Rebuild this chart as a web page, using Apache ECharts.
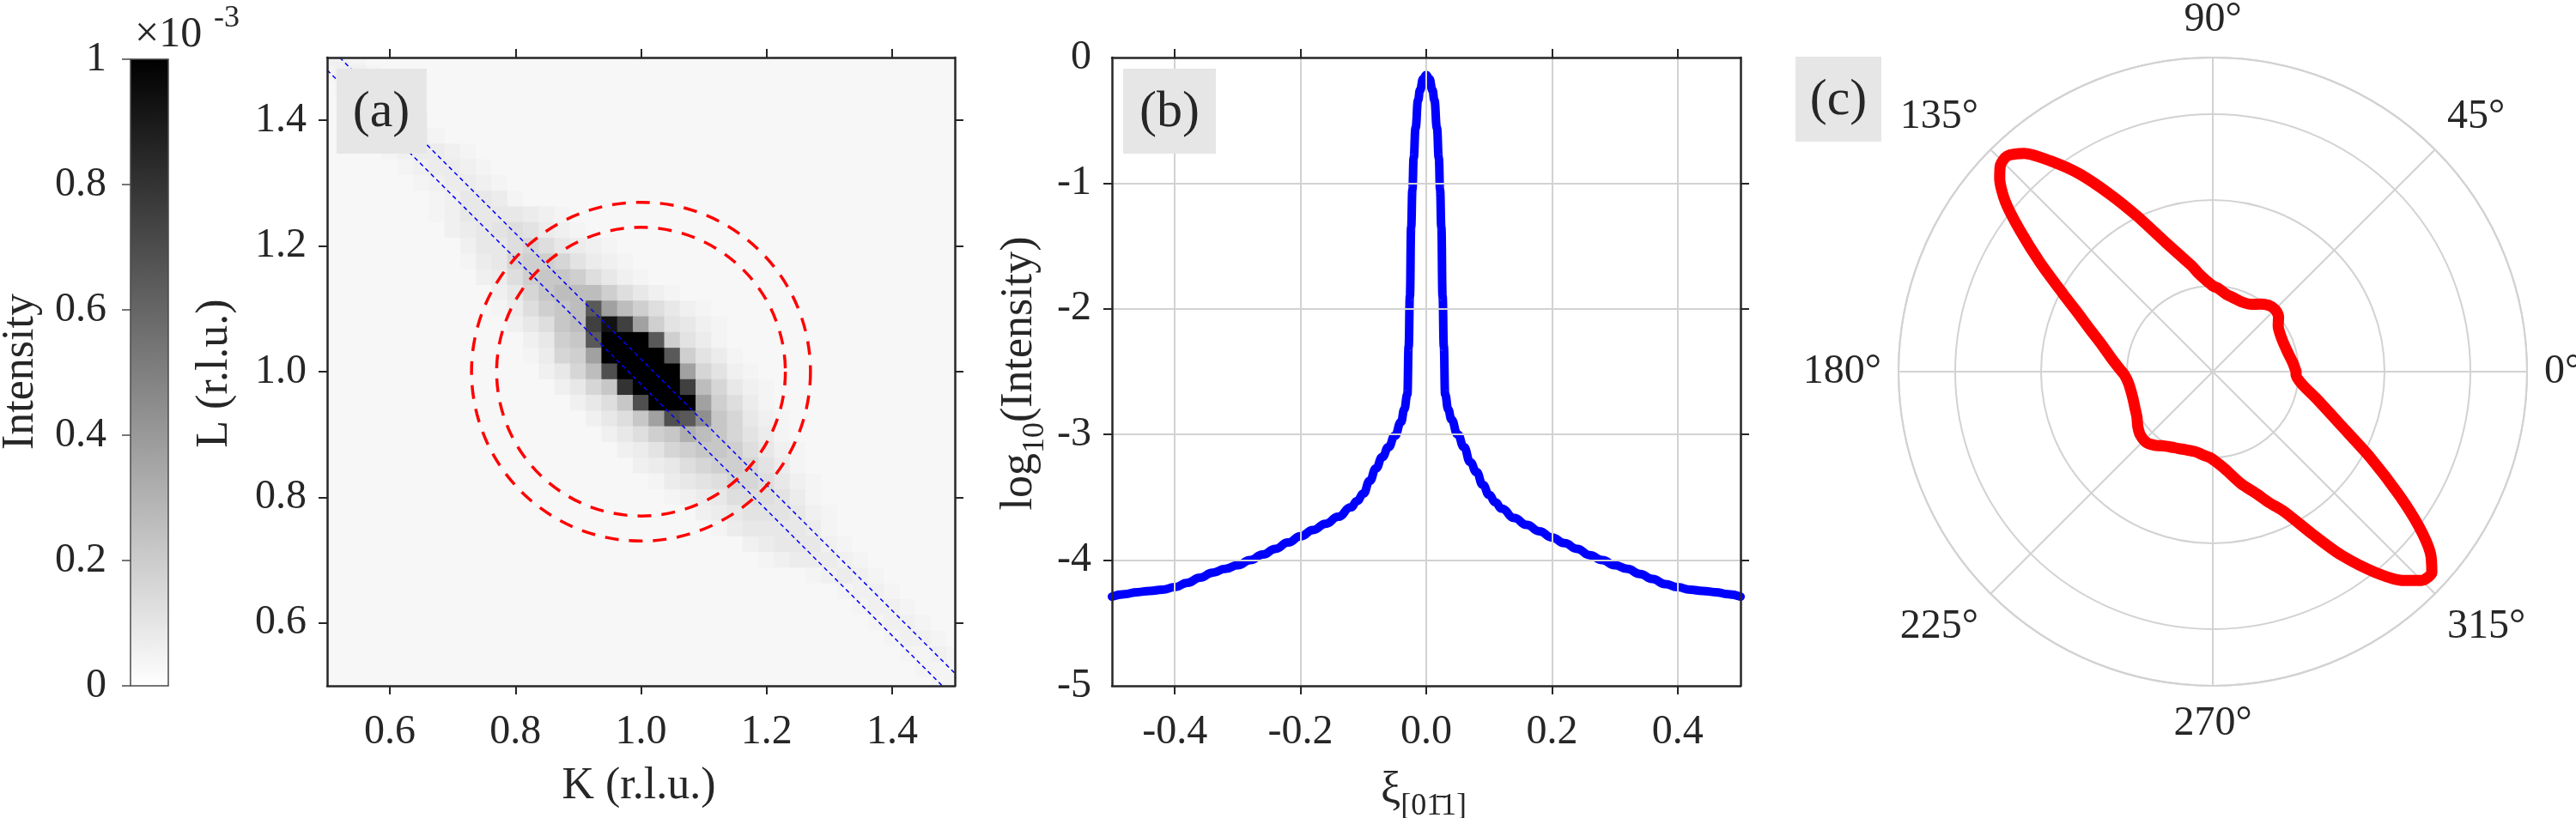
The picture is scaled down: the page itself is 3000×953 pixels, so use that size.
<!DOCTYPE html>
<html><head><meta charset="utf-8">
<script src="https://cdn.jsdelivr.net/npm/echarts@6/dist/echarts.min.js"></script>
<style>html,body{margin:0;padding:0;background:#fff}#c{width:3000px;height:953px}</style>
</head><body><div id="c"></div><script>
// ---------------- data: panel (a) ----------------
const kCenters = [0.5,0.525,0.55,0.575,0.6,0.625,0.65,0.675,0.7,0.725,0.75,0.775,0.8,0.825,0.85,0.875,0.9,0.925,0.95,0.975,1.0,1.025,1.05,1.075,1.1,1.125,1.15,1.175,1.2,1.225,1.25,1.275,1.3,1.325,1.35,1.375,1.4,1.425,1.45,1.475,1.5];
const lCenters = [1.5,1.475,1.45,1.425,1.4,1.375,1.35,1.325,1.3,1.275,1.25,1.225,1.2,1.175,1.15,1.125,1.1,1.075,1.05,1.025,1.0,0.975,0.95,0.925,0.9,0.875,0.85,0.825,0.8,0.775,0.75,0.725,0.7,0.675,0.65,0.625,0.6,0.575,0.55,0.525,0.5];
const cellSize = 0.025;
// gray levels (intensity in units of 1e-3)
const levelCodes = '0123456789abcdefghijk';
const levelValues = [0.03,0.045,0.06,0.075,0.09,0.11,0.13,0.16,0.19,0.22,0.26,0.31,0.37,0.44,0.55,0.65,0.69,0.75,0.8,0.93,1.0];
// each row (top L=1.5 to bottom L=0.5): [first column that differs from background, codes]
const heatRows = [
 [0,'221'],[0,'1221'],[1,'1221'],[2,'1221'],[3,'1221'],[4,'1221'],
 [4,'123321'],[5,'123321'],[6,'123321'],[7,'124431'],[7,'124444321'],
 [8,'234565321'],[9,'2446764321'],[9,'13478875321'],[10,'23689986421'],
 [11,'2479aaa86421'],[11,'13689afca86421'],[12,'2469ahjhc85421'],
 [13,'2489fkkkf8531'],[13,'1378ckkkkf8531'],[14,'247agkkkkc7521'],
 [15,'2479ikkkha7421'],[16,'2469gkkkc8631'],[17,'2469cgfd97421'],
 [18,'24689ba97531'],[19,'235789986421'],[20,'23467887531'],
 [21,'13456776421'],[22,'1234666531'],[24,'234555421'],[25,'13444431'],
 [27,'2344421'],[28,'1233321'],[31,'12321'],[33,'1221'],[34,'1221'],
 [35,'1221'],[36,'1221'],[37,'1121'],[38,'111'],[39,'11']
];
const ringCenter = [1.0, 1.0];
const ringRadii = [0.23, 0.27];
const cutLineA = [[0.52, 1.5], [1.5, 0.52]];
const cutLineB = [[0.5, 1.48], [1.48, 0.5]];
const kTicks = [0.6, 0.8, 1.0, 1.2, 1.4];
const lTicks = [0.6, 0.8, 1.0, 1.2, 1.4];
const cbRange = [0, 1];
const cbTicks = [0, 0.2, 0.4, 0.6, 0.8, 1];

// ---------------- data: panel (b) ----------------
const xiValues = [-0.5,-0.48,-0.46,-0.44,-0.42,-0.4,-0.38,-0.36,-0.34,-0.32,-0.3,-0.28,-0.26,-0.24,-0.22,-0.2,-0.18,-0.16,-0.14,-0.12,-0.11,-0.1,-0.09,-0.08,-0.07,-0.06,-0.05,-0.04,-0.035,-0.03,-0.028,-0.026,-0.024,-0.022,-0.02,-0.017,-0.013,-0.01,-0.005,0,
 0.005,0.01,0.013,0.017,0.02,0.022,0.024,0.026,0.028,0.03,0.035,0.04,0.05,0.06,0.07,0.08,0.09,0.1,0.11,0.12,0.14,0.16,0.18,0.2,0.22,0.24,0.26,0.28,0.3,0.32,0.34,0.36,0.38,0.4,0.42,0.44,0.46,0.48,0.5];
const logIntensity = [-4.29,-4.27,-4.255,-4.245,-4.235,-4.215,-4.18,-4.14,-4.10,-4.07,-4.04,-4.00,-3.955,-3.91,-3.86,-3.81,-3.76,-3.71,-3.655,-3.58,-3.53,-3.47,-3.37,-3.27,-3.18,-3.10,-3.01,-2.90,-2.80,-2.68,-2.3,-1.9,-1.35,-1.05,-0.8,-0.56,-0.34,-0.26,-0.17,-0.14,
 -0.17,-0.26,-0.34,-0.56,-0.8,-1.05,-1.35,-1.9,-2.3,-2.68,-2.80,-2.88,-3.0,-3.10,-3.22,-3.30,-3.40,-3.48,-3.54,-3.59,-3.665,-3.72,-3.77,-3.82,-3.865,-3.91,-3.96,-4.00,-4.04,-4.07,-4.11,-4.15,-4.19,-4.215,-4.235,-4.245,-4.255,-4.27,-4.29];
const xiTicks = [-0.4, -0.2, 0, 0.2, 0.4];
const logTicks = [-5, -4, -3, -2, -1, 0];
const logInnerTicks = [-4, -3, -2, -1];

// ---------------- data: panel (c) ----------------
const polarAngles = [0,6,15,25,35,40,45,50,55,60,67,75,80,86,90,98,101,105,110,116,120,124,127.6,130.8,133.6,135.8,137.8,140.7,143.8,147.7,152.6,156,160.8,166,172,178,182,188,198,205,211,216,221,227,232,235,240,246,252,258,264,268,272,277,284,290,293,297,301.6,305,309,312.5,315,317.5,320.3,323.1,326.5,331.4,337.1,345.6,352,358,360];
const polarRadii = [0.97,0.94,0.90,0.89,0.93,1.0,1.025,1.01,0.96,0.905,0.88,0.895,0.915,0.97,1.0,1.15,1.25,1.38,1.60,2.02,2.38,2.78,3.10,3.36,3.47,3.45,3.35,3.12,2.78,2.38,1.96,1.74,1.52,1.34,1.20,1.09,1.03,0.99,0.98,1.0,1.03,1.08,1.12,1.13,1.09,1.054,1.01,0.98,0.96,0.955,0.98,1.0,1.05,1.14,1.34,1.52,1.65,1.83,2.23,2.61,3.01,3.30,3.44,3.46,3.29,3.0,2.60,2.09,1.63,1.24,1.05,0.97,0.97];
const radiusMax = 3.66;

// ---------------- build ----------------
const FONT = "'Liberation Serif', serif";
const TXT = '#262626';
const GRIDC = '#d2d2d2';
const FS = 48;

const heatData = [];
heatRows.forEach(([start, pat], j) => {
  for (let i = 0; i < kCenters.length; i++) {
    const idx = i - start;
    const code = (idx >= 0 && idx < pat.length) ? pat[idx] : '0';
    heatData.push([kCenters[i], lCenters[j], levelValues[levelCodes.indexOf(code)]]);
  }
});

function frameAxis(grid, pos, min, max, ticks, labels, fmt, extra) {
  return Object.assign({
    gridIndex: grid, type: 'value', position: pos, min: min, max: max, z: 10,
    axisLine: {show: true, onZero: false, lineStyle: {color: TXT, width: 2.5}},
    axisTick: {show: true, inside: false, length: 10, customValues: ticks, lineStyle: {color: TXT, width: 2}},
    axisLabel: labels ? {show: true, customValues: labels, formatter: fmt, margin: 24, fontFamily: FONT, fontSize: FS, color: TXT} : {show: false},
    splitLine: {show: false}
  }, extra || {});
}
function txt(x, y, text, size, rot, align) {
  return {type: 'text', z: 51, x: x, y: y, rotation: rot || 0,
    style: {text: text, fontSize: size, fontFamily: FONT, fill: TXT, align: align || 'center', verticalAlign: 'middle',
            textAlign: align || 'center', textVerticalAlign: 'middle'}};
}

const chart = echarts.init(document.getElementById('c'), null, {renderer: 'canvas'});
const option = {
  animation: false,
  backgroundColor: '#ffffff',
  textStyle: {fontFamily: FONT},
  grid: [
    {left: 152, top: 69, width: 44, height: 730},
    {left: 381, top: 67, width: 731, height: 732},
    {left: 1295, top: 67, width: 732, height: 732}
  ],
  xAxis: [
    {gridIndex: 0, type: 'value', min: cbRange[0], max: cbRange[1], show: false},
    frameAxis(1, 'bottom', 0.5, 1.5, kTicks, kTicks, v => v.toFixed(1), {axisLabel: {customValues: kTicks, formatter: v => v.toFixed(1), margin: 30, fontFamily: FONT, fontSize: FS, color: TXT}}),
    frameAxis(1, 'top', 0.5, 1.5, kTicks, null),
    frameAxis(2, 'bottom', -0.5, 0.5, xiTicks, xiTicks, v => v.toFixed(1), {
      axisLabel: {customValues: xiTicks, formatter: v => v.toFixed(1), margin: 30, fontFamily: FONT, fontSize: FS, color: TXT},
      splitLine: {show: true, lineStyle: {color: GRIDC, width: 2}}
    }),
    frameAxis(2, 'top', -0.5, 0.5, xiTicks, null)
  ],
  yAxis: [
    {gridIndex: 0, type: 'value', position: 'left', min: cbRange[0], max: cbRange[1], interval: 0.2, z: 10,
     axisLine: {show: false},
     axisTick: {show: true, inside: false, length: 10, lineStyle: {color: '#4a4a4a', width: 1.5}},
     axisLabel: {margin: 28, formatter: v => (v === 0 || v === 1) ? String(v) : v.toFixed(1), fontFamily: FONT, fontSize: FS, color: TXT},
     splitLine: {show: false}},
    frameAxis(1, 'left', 0.5, 1.5, lTicks, lTicks, v => v.toFixed(1)),
    frameAxis(1, 'right', 0.5, 1.5, lTicks, null),
    frameAxis(2, 'left', -5, 0, logInnerTicks, logTicks, v => String(v), {
      splitLine: {show: true, lineStyle: {color: GRIDC, width: 2}}
    }),
    frameAxis(2, 'right', -5, 0, logInnerTicks, null)
  ],
  polar: {center: [2577, 433], radius: 366},
  angleAxis: {
    type: 'value', min: 0, max: 360, interval: 45, startAngle: 0, clockwise: false,
    axisLine: {show: true, lineStyle: {color: GRIDC, width: 2}},
    axisTick: {show: false},
    axisLabel: {margin: 20, formatter: v => v === 360 ? '' : v + '°', fontFamily: FONT, fontSize: FS, color: TXT},
    splitLine: {show: true, lineStyle: {color: GRIDC, width: 2}}
  },
  radiusAxis: {
    type: 'value', min: 0, max: radiusMax, interval: 1,
    axisLine: {show: false}, axisTick: {show: false}, axisLabel: {show: false},
    splitLine: {show: true, lineStyle: {color: GRIDC, width: 2}}
  },
  series: [
    { // colorbar
      type: 'custom', xAxisIndex: 0, yAxisIndex: 0, data: [[cbRange[0], cbRange[0]]], z: 2,
      renderItem: (params, api) => {
        const p0 = api.coord([cbRange[0], cbRange[1]]);
        const p1 = api.coord([cbRange[1], cbRange[0]]);
        return {type: 'rect', shape: {x: p0[0], y: p0[1], width: p1[0] - p0[0], height: p1[1] - p0[1]},
          style: {fill: new echarts.graphic.LinearGradient(0, 0, 0, 1, [{offset: 0, color: '#000'}, {offset: 1, color: '#fff'}]),
                  stroke: '#4a4a4a', lineWidth: 1.5}};
      }
    },
    { // heatmap (a)
      type: 'custom', xAxisIndex: 1, yAxisIndex: 1, data: heatData, z: 1,
      renderItem: (params, api) => {
        const k = api.value(0), l = api.value(1), v = api.value(2);
        const h = cellSize / 2;
        const p0 = api.coord([k - h, l + h]);
        const p1 = api.coord([k + h, l - h]);
        const cs = params.coordSys;
        const shape = echarts.graphic.clipRectByRect(
          {x: p0[0] - 0.4, y: p0[1] - 0.4, width: p1[0] - p0[0] + 0.8, height: p1[1] - p0[1] + 0.8},
          {x: cs.x, y: cs.y, width: cs.width, height: cs.height});
        if (!shape) return null;
        const g = Math.round(255 * (1 - Math.min(1, v)));
        return {type: 'rect', shape: shape, style: {fill: 'rgb(' + g + ',' + g + ',' + g + ')'}};
      }
    },
    { // red dashed rings
      type: 'custom', xAxisIndex: 1, yAxisIndex: 1, z: 4,
      data: ringRadii.map(r => [ringCenter[0], ringCenter[1], r]),
      renderItem: (params, api) => {
        const c = api.coord([api.value(0), api.value(1)]);
        const rr = api.size([api.value(2), 0])[0];
        return {type: 'circle', shape: {cx: c[0], cy: c[1], r: rr},
          style: {fill: 'none', stroke: '#ff0000', lineWidth: 3.5, lineDash: [16, 12]}};
      }
    },
    {type: 'line', xAxisIndex: 1, yAxisIndex: 1, data: cutLineA, symbol: 'none', z: 3,
     lineStyle: {color: '#0000ff', width: 1.5, type: [5, 4]}},
    {type: 'line', xAxisIndex: 1, yAxisIndex: 1, data: cutLineB, symbol: 'none', z: 3,
     lineStyle: {color: '#0000ff', width: 1.5, type: [5, 4]}},
    { // (b) line cut
      type: 'line', xAxisIndex: 3, yAxisIndex: 3, symbol: 'none', z: 5,
      data: xiValues.map((x, i) => [x, logIntensity[i]]),
      smooth: true, smoothMonotone: 'x',
      lineStyle: {color: '#0000ff', width: 10, cap: 'round', join: 'round'}
    },
    { // (c) polar
      type: 'line', coordinateSystem: 'polar', symbol: 'none', z: 5,
      data: polarAngles.map((a, i) => [polarRadii[i], a]),
      smooth: 0.25,
      lineStyle: {color: '#ff0000', width: 13, cap: 'round', join: 'round'}
    }
  ],
  graphic: [
    {type: 'rect', z: 50, shape: {x: 392, y: 80, width: 105, height: 99}, style: {fill: '#e6e6e6'}},
    txt(444, 131, '(a)', 60),
    {type: 'rect', z: 50, shape: {x: 1308, y: 80, width: 108, height: 99}, style: {fill: '#e6e6e6'}},
    txt(1362, 131, '(b)', 60),
    {type: 'rect', z: 50, shape: {x: 2091, y: 66, width: 100, height: 99}, style: {fill: '#e6e6e6'}},
    txt(2141, 117, '(c)', 60),
    txt(24, 433, 'Intensity', 52, Math.PI / 2),
    txt(250, 435, 'L (r.l.u.)', 52, Math.PI / 2),
    txt(744, 916, 'K (r.l.u.)', 52),
    txt(157, 41, '×10', 50, 0, 'left'),
    txt(249, 22, '-3', 36, 0, 'left'),
    {type: 'text', z: 51, x: 1187, y: 435, rotation: Math.PI / 2, style: {
      text: '{m|log}{s|10}{m|(Intensity)}', align: 'center', verticalAlign: 'middle', textAlign: 'center', textVerticalAlign: 'middle',
      rich: {m: {fontSize: 52, fontFamily: FONT, fill: TXT, color: TXT},
             s: {fontSize: 36, fontFamily: FONT, fill: TXT, color: TXT, padding: [38, 0, 0, 0]}}}},
    {type: 'text', z: 51, x: 1658, y: 921, style: {
      text: '{m|ξ}{s|[01\u03041]}', align: 'center', verticalAlign: 'middle', textAlign: 'center', textVerticalAlign: 'middle',
      rich: {m: {fontSize: 52, fontFamily: FONT, fill: TXT, color: TXT},
             s: {fontSize: 36, fontFamily: FONT, fill: TXT, color: TXT, padding: [38, 0, 0, 0]}}}}
  ]
};
chart.setOption(option);
</script></body></html>
